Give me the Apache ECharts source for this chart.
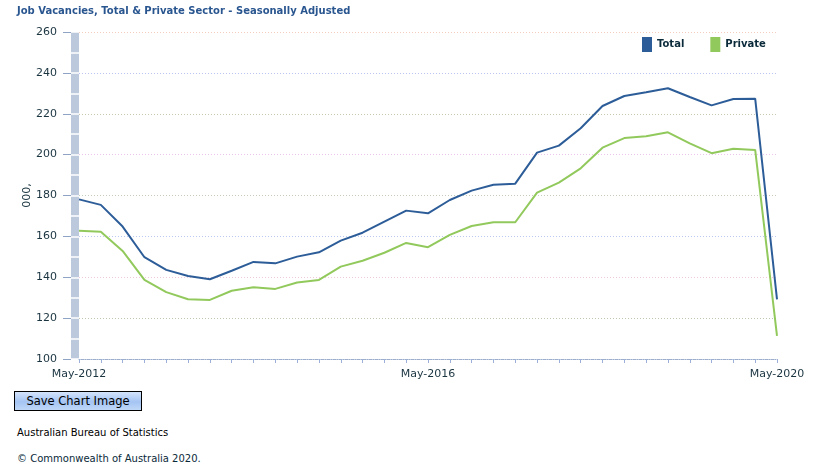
<!DOCTYPE html>
<html>
<head>
<meta charset="utf-8">
<script src="https://cdn.jsdelivr.net/npm/echarts@6/dist/echarts.min.js"></script>
<style>
  html, body { margin: 0; padding: 0; background: #fff; width: 830px; height: 476px; overflow: hidden; font-family: "DejaVu Sans", Verdana, sans-serif; }
  #chart { position: absolute; left: 0; top: 0; width: 830px; height: 385px; }
  #btn { position: absolute; left: 14px; top: 391px; width: 126px; height: 18px; border: 1px solid #000;
         background: linear-gradient(#d4e4fc, #a4c4f2 55%, #c0d8f8); font-size: 11.5px; line-height: 18px; text-align: center; color: #000; }
  #src { position: absolute; left: 17px; top: 427px; font-size: 10px; color: #000; }
  #copy { position: absolute; left: 17px; top: 453px; font-size: 10px; color: #0a2a3a; }
</style>
</head>
<body>
<div id="chart"></div>
<div id="btn">Save Chart Image</div>
<div id="src">Australian Bureau of Statistics</div>
<div id="copy">© Commonwealth of Australia 2020.</div>
<script>
const categories = [
  'May-2012','Aug-2012','Nov-2012','Feb-2013','May-2013','Aug-2013','Nov-2013','Feb-2014',
  'May-2014','Aug-2014','Nov-2014','Feb-2015','May-2015','Aug-2015','Nov-2015','Feb-2016',
  'May-2016','Aug-2016','Nov-2016','Feb-2017','May-2017','Aug-2017','Nov-2017','Feb-2018',
  'May-2018','Aug-2018','Nov-2018','Feb-2019','May-2019','Aug-2019','Nov-2019','Feb-2020',
  'May-2020'
];
const totalValues = [
  178.1, 175.4, 164.8, 149.8, 143.6, 140.6, 139.0, 143.2,
  147.5, 146.8, 150.1, 152.2, 157.9, 161.8, 167.2, 172.6,
  171.3, 177.8, 182.4, 185.3, 185.8, 201.0, 204.4, 212.9,
  223.8, 228.7, 230.5, 232.5, 228.2, 224.1, 227.2, 227.4,
  129.2
];
const privateValues = [
  162.8, 162.3, 152.9, 138.7, 132.7, 129.2, 128.9, 133.4,
  135.1, 134.3, 137.4, 138.7, 145.2, 148.1, 152.0, 156.8,
  154.7, 160.7, 165.1, 166.9, 166.9, 181.4, 186.3, 193.3,
  203.4, 208.1, 209.0, 210.9, 205.5, 200.7, 202.9, 202.3,
  111.3
];
const yMin = 100, yMax = 260, yStep = 20;
const gridColors = ['#a8b8d0', '#bccab4', '#f0c8dc', '#bcc8f0', '#c4ccbc', '#ecc4ec', '#c4cab0', '#bcc4f4', '#f4ccbc'];

const FONT = '"DejaVu Sans", Verdana, sans-serif';
const chart = echarts.init(document.getElementById('chart'));
chart.setOption({
  animation: false,
  title: {
    text: 'Job Vacancies, Total & Private Sector - Seasonally Adjusted',
    left: 12, top: 1,
    textStyle: { fontFamily: FONT, fontSize: 10, fontWeight: 'bold', color: '#2a5690' }
  },
  legend: {
    left: 642, top: 37, padding: 0,
    itemWidth: 10, itemHeight: 15, itemGap: 26,
    icon: 'rect',
    textStyle: { fontFamily: FONT, fontSize: 10, fontWeight: 'bold', color: '#0a2a3a' },
    data: ['Total', 'Private']
  },
  grid: [
    { left: 79, right: 53, top: 32, bottom: 26 },
    { left: 71, width: 8, top: 32, bottom: 26 }
  ],
  xAxis: [
    {
      type: 'category', data: categories, boundaryGap: false, gridIndex: 0,
      axisLine: { lineStyle: { color: '#9aaccc', type: 'dotted', width: 1 } },
      axisTick: { interval: 0, length: 4, lineStyle: { color: '#9ab0d8' } },
      axisLabel: { interval: 15, margin: 10, fontFamily: FONT, fontSize: 11, color: '#1a3440' },
      splitLine: { show: false }
    },
    { type: 'value', gridIndex: 1, min: 0, max: 1, show: false }
  ],
  yAxis: [
    {
      type: 'value', gridIndex: 0, min: yMin, max: yMax, interval: yStep, offset: 8,
      name: '000,', nameLocation: 'middle', nameRotate: 90, nameGap: 38, nameMoveOverlap: false,
      nameTextStyle: { fontFamily: FONT, fontSize: 11, color: '#1a3440' },
      axisLine: { show: false },
      axisTick: { show: true, length: 8, lineStyle: { color: '#8fa4c4' } },
      axisLabel: { margin: 14, fontFamily: FONT, fontSize: 11, color: '#1a3440' },
      splitLine: { show: true, lineStyle: { color: gridColors, type: [1, 2], width: 1 } }
    },
    {
      type: 'value', gridIndex: 1, min: yMin, max: yMax, interval: 10,
      axisLine: { show: false }, axisTick: { show: false }, axisLabel: { show: false },
      splitLine: { show: true, lineStyle: { color: '#ffffff', width: 1.5 } },
      splitArea: { show: true, areaStyle: { color: ['#bcc8dc', '#bcc8dc'] } }
    }
  ],
  series: [
    {
      name: 'Total', type: 'line', data: totalValues, xAxisIndex: 0, yAxisIndex: 0,
      symbol: 'none', lineStyle: { color: '#2d5d98', width: 2 }, itemStyle: { color: '#2d5d98' }, z: 3
    },
    {
      name: 'Private', type: 'line', data: privateValues, xAxisIndex: 0, yAxisIndex: 0,
      symbol: 'none', lineStyle: { color: '#92c95c', width: 2 }, itemStyle: { color: '#92c95c' }, z: 2
    },
    {
      name: 'band', type: 'line', data: [], xAxisIndex: 1, yAxisIndex: 1, silent: true
    }
  ]
});
</script>
</body>
</html>
